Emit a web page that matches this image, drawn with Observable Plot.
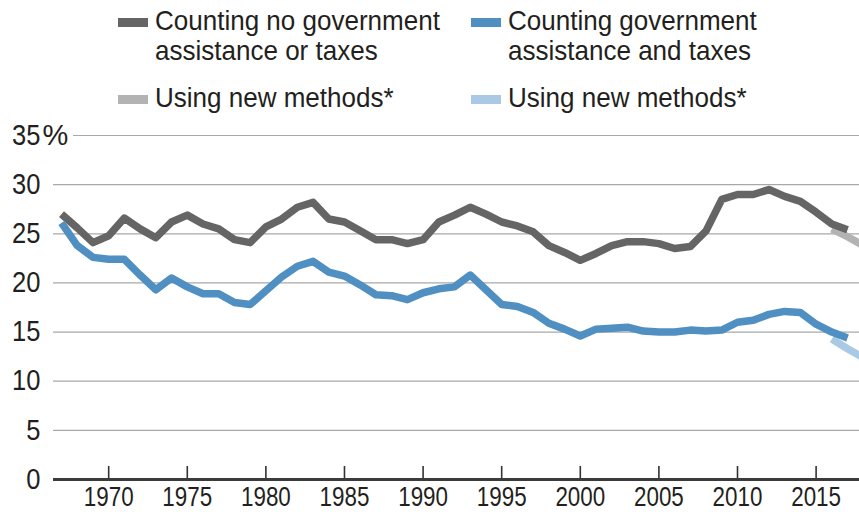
<!DOCTYPE html>
<html>
<head>
<meta charset="utf-8">
<script src="https://cdn.jsdelivr.net/npm/d3@7"></script>
<script src="https://cdn.jsdelivr.net/npm/@observablehq/plot@0.6"></script>
<style>
  html, body { margin: 0; padding: 0; background: #fff; }
  #wrap { position: relative; width: 859px; height: 512px; overflow: hidden;
          font-family: "Liberation Sans", Arial, sans-serif; color: #231f20; }
  .sw { position: absolute; width: 30px; height: 9px; }
  .lt { position: absolute; font-size: 27.5px; line-height: 30.7px; height: 30.7px; white-space: nowrap;
        transform: scaleX(0.946); transform-origin: 0 0; }
  #chart { position: absolute; left: 0; top: 120px; }
  #chart [aria-label^="x-axis"] text { font-size: 28px; }
  #chart [aria-label^="y-axis"] text { font-size: 29px; }
</style>
</head>
<body>
<div id="wrap">
  <div id="legend"></div>
  <div id="chart"></div>
</div>
<script>
// ---- data ----
const years = [1967,1968,1969,1970,1971,1972,1973,1974,1975,1976,1977,1978,1979,
  1980,1981,1982,1983,1984,1985,1986,1987,1988,1989,1990,1991,1992,1993,1994,1995,
  1996,1997,1998,1999,2000,2001,2002,2003,2004,2005,2006,2007,2008,2009,2010,2011,
  2012,2013,2014,2015,2016,2017];
const noGov = [27.0,25.6,24.1,24.8,26.6,25.5,24.6,26.2,26.9,26.0,25.5,24.4,24.1,
  25.7,26.5,27.7,28.2,26.5,26.2,25.3,24.4,24.4,24.0,24.4,26.2,26.9,27.7,27.0,26.2,
  25.8,25.2,23.8,23.1,22.3,23.0,23.8,24.2,24.2,24.0,23.5,23.7,25.3,28.5,29.0,29.0,
  29.5,28.8,28.3,27.2,26.0,25.4];
const withGov = [26.1,23.8,22.6,22.4,22.4,20.8,19.3,20.5,19.6,18.9,18.9,18.0,17.8,
  19.2,20.6,21.7,22.2,21.1,20.7,19.8,18.8,18.7,18.3,19.0,19.4,19.6,20.8,19.3,17.8,
  17.6,17.0,15.9,15.3,14.6,15.3,15.4,15.5,15.1,15.0,15.0,15.2,15.1,15.2,16.0,16.2,
  16.8,17.1,17.0,15.8,15.0,14.4];
const newYears = [2016, 2017, 2018];
const noGovNew = [25.5, 24.7, 23.8];
const withGovNew = [14.3, 13.3, 12.4];

const yTicks = [0, 5, 10, 15, 20, 25, 30, 35];
const xTicks = [1970, 1975, 1980, 1985, 1990, 1995, 2000, 2005, 2010, 2015];

const legendLabels = [
  ["Counting no government", "assistance or taxes"],
  ["Counting government", "assistance and taxes"],
  ["Using new methods*"],
  ["Using new methods*"]
];
const colors = ["#656565", "#4f8fc2", "#b3b3b3", "#a9c9e4"];

// ---- legend ----
const legend = document.getElementById("legend");
const slots = [[118, 155, 21], [471, 508, 21], [118, 155, 98], [471, 508, 98]];
legendLabels.forEach((lines, i) => {
  const [sx, tx, cy] = slots[i];
  const sw = document.createElement("div");
  sw.className = "sw";
  sw.style.left = sx + "px";
  sw.style.top = (cy - 4.5 + 1) + "px";
  sw.style.background = colors[i];
  legend.appendChild(sw);
  lines.forEach((line, j) => {
    const t = document.createElement("div");
    t.className = "lt";
    t.style.left = tx + "px";
    t.style.top = (cy - 15.35 + j * 30.7) + "px";
    t.textContent = line;
    legend.appendChild(t);
  });
});

// ---- chart ----
const rows = years.map((y, i) => ({year: y, noGov: noGov[i], withGov: withGov[i]}));
const rowsNew = newYears.map((y, i) => ({year: y, noGov: noGovNew[i], withGov: withGovNew[i]}));

const W = 859, H = 392, mt = 15, mb = 33;
const fontFamily = '"Liberation Sans", Arial, sans-serif';

const chart = Plot.plot({
  width: W, height: H,
  marginLeft: 53, marginRight: 0, marginTop: mt, marginBottom: mb,
  x: {domain: [1966.49, 2017.76], ticks: xTicks, tickSize: 0, tickPadding: 7,
      tickFormat: d => String(d), label: null},
  y: {domain: [0, 35], ticks: yTicks, tickSize: 0, tickPadding: 13,
      tickFormat: d => String(d), label: null},
  style: {fontFamily, fontSize: "29px", color: "#231f20", background: "white", overflow: "visible"},
  marks: [
    Plot.ruleY(yTicks.filter(d => d > 0 && d < 35), {y: d => d, stroke: "#a8a8a8", strokeWidth: 1.2}),
    Plot.ruleY([35], {y: d => d, stroke: "#a8a8a8", strokeWidth: 1.2, insetLeft: 20}),
    Plot.text([35], {y: d => d, text: () => "%", frameAnchor: "left", textAnchor: "start",
      dx: -11, fontSize: 29, fill: "#231f20", ariaLabel: "percent"}),
    Plot.tickX(xTicks, {x: d => d, insetTop: H - mt - mb - 13, stroke: "#333", strokeWidth: 1.6}),
    Plot.line(rowsNew, {x: "year", y: "noGov", stroke: colors[2], strokeWidth: 7.5,
      strokeLinejoin: "round", strokeLinecap: "butt", clip: true}),
    Plot.line(rowsNew, {x: "year", y: "withGov", stroke: colors[3], strokeWidth: 7.5,
      strokeLinejoin: "round", strokeLinecap: "butt", clip: true}),
    Plot.line(rows, {x: "year", y: "noGov", stroke: colors[0], strokeWidth: 7.5,
      strokeLinejoin: "round", strokeLinecap: "butt", clip: true}),
    Plot.line(rows, {x: "year", y: "withGov", stroke: colors[1], strokeWidth: 7.5,
      strokeLinejoin: "round", strokeLinecap: "butt", clip: true}),
    Plot.ruleY([0], {y: d => d, stroke: "#3b3b3b", strokeWidth: 3})
  ]
});
document.getElementById("chart").appendChild(chart);

// condense the tick-label glyphs to match the narrow face of the original
function condense(sel, k) {
  chart.querySelectorAll(sel).forEach(t => {
    const len = t.getComputedTextLength();
    if (len > 0) {
      t.setAttribute("textLength", (len * k).toFixed(2));
      t.setAttribute("lengthAdjust", "spacingAndGlyphs");
    }
  });
}
condense('[aria-label^="x-axis"] text', 0.8);
condense('[aria-label^="y-axis"] text', 0.88);
condense('[aria-label="percent"] text', 0.88);
</script>
</body>
</html>
